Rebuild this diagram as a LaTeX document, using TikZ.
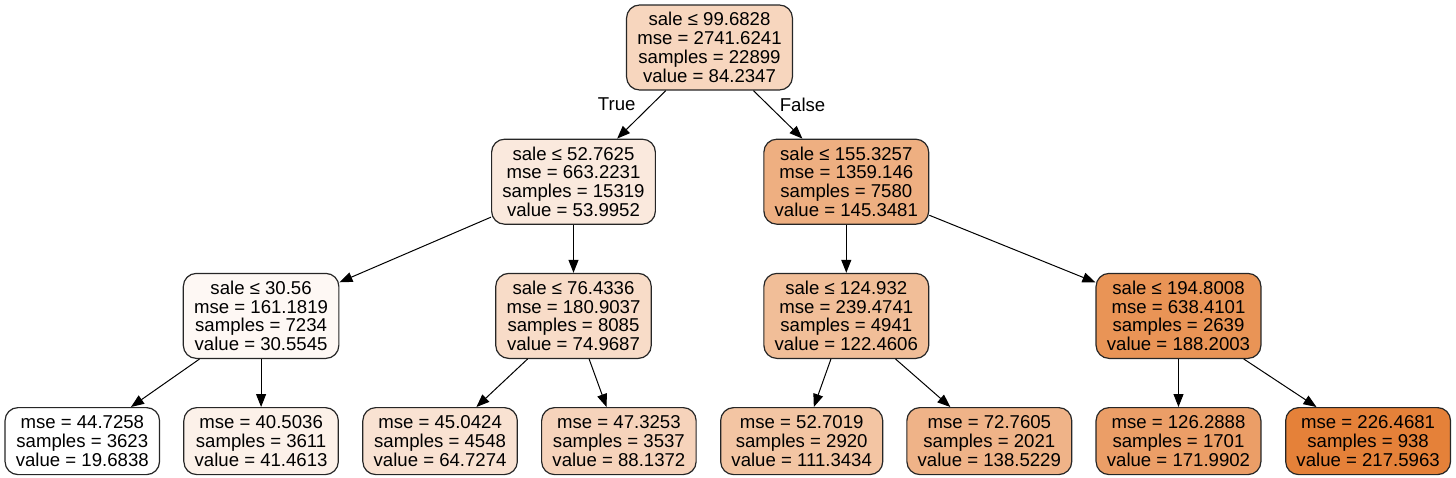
\documentclass[tikz,border=0pt]{standalone}
\usepackage{fontspec}
\setmainfont{Liberation Sans}
\usepackage{xcolor}
\usepackage{tikz}
\usetikzlibrary{positioning, arrows.meta}
\definecolor{val20}{RGB}{255,255,255}
\definecolor{val31}{RGB}{254,248,244}
\definecolor{val41}{RGB}{252,241,233}
\definecolor{val54}{RGB}{250,233,221}
\definecolor{val65}{RGB}{249,226,210}
\definecolor{val75}{RGB}{248,220,200}
\definecolor{val84}{RGB}{247,214,190}
\definecolor{val88}{RGB}{246,211,187}
\definecolor{val111}{RGB}{243,197,163}
\definecolor{val122}{RGB}{241,190,152}
\definecolor{val139}{RGB}{239,179,136}
\definecolor{val145}{RGB}{238,175,129}
\definecolor{val172}{RGB}{235,158,103}
\definecolor{val188}{RGB}{233,148,86}
\definecolor{val218}{RGB}{229,129,57}

\begin{document}
\begin{tikzpicture}[node distance=24pt,
  box/.style={draw=black!85, line width=0.6pt, rounded corners=6.5pt, align=center, inner xsep=5.4pt, inner ysep=0pt, font=\fontsize{9.3}{9.4}\selectfont},
  splitbox/.style={box, minimum height=42.5pt},
  leafbox/.style={box, minimum height=33.5pt},
  arr/.style={-{Triangle[length=6.5pt, width=5pt]}, line width=0.5pt}]
  \useasboundingbox (-354.75pt,23.75pt) rectangle (373.25pt,-214.75pt);
  \node[splitbox, fill=val84] (root) {sale ≤ 99.6828\\mse = 2741.6241\\samples = 22899\\value = 84.2347};
  \node[splitbox, fill=val54, below=of root, xshift=-68pt] (saleA) {sale ≤ 52.7625\\mse = 663.2231\\samples = 15319\\value = 53.9952};
  \node[splitbox, fill=val145, below=of root, xshift=68.4pt] (saleB) {sale ≤ 155.3257\\mse = 1359.146\\samples = 7580\\value = 145.3481};
  \node[splitbox, fill=val31, below=of saleA, xshift=-156.2pt] (saleAA) {sale ≤ 30.56\\mse = 161.1819\\samples = 7234\\value = 30.5545};
  \node[splitbox, fill=val75, below=of saleA] (saleAB) {sale ≤ 76.4336\\mse = 180.9037\\samples = 8085\\value = 74.9687};
  \node[splitbox, fill=val122, below=of saleB] (saleBA) {sale ≤ 124.932\\mse = 239.4741\\samples = 4941\\value = 122.4606};
  \node[splitbox, fill=val188, below=of saleB, xshift=166.1pt] (saleBB) {sale ≤ 194.8008\\mse = 638.4101\\samples = 2639\\value = 188.2003};

  \node[leafbox, fill=val20, below=of saleAA, xshift=-89.4pt] (leaf1) {mse = 44.7258\\samples = 3623\\value = 19.6838};
  \node[leafbox, fill=val41, below=of saleAA] (leaf2) {mse = 40.5036\\samples = 3611\\value = 41.4613};
  \node[leafbox, fill=val65, below=of saleAB, xshift=-66.7pt] (leaf3) {mse = 45.0424\\samples = 4548\\value = 64.7274};
  \node[leafbox, fill=val88, below=of saleAB, xshift=22.7pt] (leaf4) {mse = 47.3253\\samples = 3537\\value = 88.1372};
  \node[leafbox, fill=val111, below=of saleBA, xshift=-22.3pt] (leaf5) {mse = 52.7019\\samples = 2920\\value = 111.3434};
  \node[leafbox, fill=val139, below=of saleBA, xshift=71.5pt] (leaf6) {mse = 72.7605\\samples = 2021\\value = 138.5229};
  \node[leafbox, fill=val172, below=of saleBB] (leaf7) {mse = 126.2888\\samples = 1701\\value = 171.9902};
  \node[leafbox, fill=val218, below=of saleBB, xshift=94.8pt] (leaf8) {mse = 226.4681\\samples = 938\\value = 217.5963};

  \draw[arr] (root) -- node[pos=0.29, left=4.5pt, font=\fontsize{9.3}{9.4}\selectfont]{True} (saleA);
  \draw[arr] (root) -- node[pos=0.29, right=2.5pt, font=\fontsize{9.3}{9.4}\selectfont]{False} (saleB);
  \draw[arr] (saleA) -- (saleAA);
  \draw[arr] (saleA) -- (saleAB);
  \draw[arr] (saleB) -- (saleBA);
  \draw[arr] (saleB) -- (saleBB);
  \draw[arr] (saleAA) -- (leaf1);
  \draw[arr] (saleAA) -- (leaf2);
  \draw[arr] (saleAB) -- (leaf3);
  \draw[arr] (saleAB) -- (leaf4);
  \draw[arr] (saleBA) -- (leaf5);
  \draw[arr] (saleBA) -- (leaf6);
  \draw[arr] (saleBB) -- (leaf7);
  \draw[arr] (saleBB) -- (leaf8);
\end{tikzpicture}
\end{document}
